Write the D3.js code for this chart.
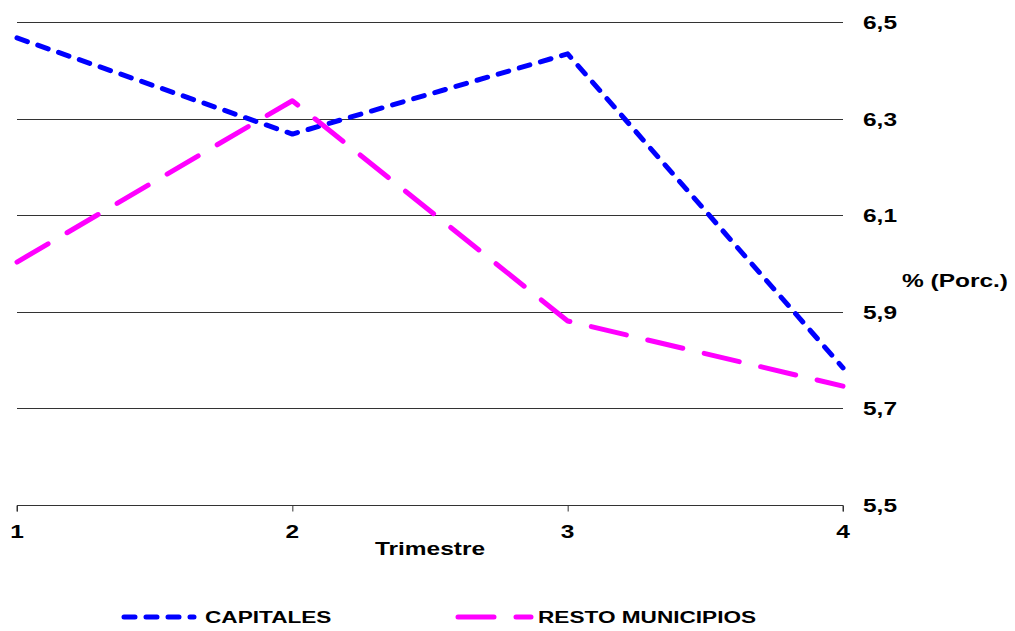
<!DOCTYPE html>
<html><head><meta charset="utf-8">
<script src="https://cdn.jsdelivr.net/npm/d3@7"></script>
<style>
html,body{margin:0;padding:0;background:#fff;}
svg text{font-family:"Liberation Sans",Arial,sans-serif;font-weight:bold;fill:#000;}
</style></head>
<body>
<svg id="chart" width="1015" height="631"></svg>
<script>
const categories = [1, 2, 3, 4];
const capitales = [6.467, 6.268, 6.434, 5.784];
const restoMunicipios = [6.003, 6.337, 5.881, 5.746];
const yTicks = [5.5, 5.7, 5.9, 6.1, 6.3, 6.5];
const seriesNames = ["CAPITALES", "RESTO MUNICIPIOS"];
const xTitle = "Trimestre";
const yTitle = "% (Porc.)";

const svg = d3.select("#chart");
const x = d3.scalePoint().domain(categories).range([17, 843]);
const y = d3.scaleLinear().domain([5.5, 6.5]).range([505, 22]);

function stretchedText(g, tx, ty, txt, anchor, size, sx) {
  return g.append("text").attr("transform", `translate(${tx},${ty}) scale(${sx},1)`)
    .attr("font-size", size).attr("text-anchor", anchor || "start").text(txt);
}

// gridlines
svg.append("g").selectAll("line").data(yTicks.filter(d => d > 5.5)).join("line")
  .attr("x1", x(1)).attr("x2", x(4))
  .attr("y1", d => Math.round(y(d)) + 0.5).attr("y2", d => Math.round(y(d)) + 0.5)
  .attr("stroke", "#333").attr("stroke-width", 1);

// x axis
const xAxis = d3.axisBottom(x).tickSize(6).tickFormat("");
const xg = svg.append("g").attr("transform", `translate(0,${Math.round(y(5.5)) + 0.5})`).call(xAxis);
xg.select(".domain").attr("stroke", "#333").attr("d", `M${x(1)},6V0H${x(4)}V6`);
xg.selectAll(".tick line").attr("stroke", "#333");

// x tick labels
categories.forEach(c => stretchedText(svg, x(c), 538, String(c), "middle", 18, 1.36));
stretchedText(svg, (x(2) + x(3)) / 2, 555, xTitle, "middle", 18, 1.36);

// y tick labels (right)
const fmt = d => d3.format(".1f")(d).replace(".", ",");
yTicks.forEach(v => stretchedText(svg, 863, y(v) + 7, fmt(v), "start", 18, 1.36));
stretchedText(svg, 902, 287, yTitle, "start", 18, 1.36);

// lines
const line = d3.line().x((d, i) => x(categories[i])).y(d => y(d));
const styles = [
  {color: "#0000FF", dash: "11,11"},
  {color: "#FF00FF", dash: "36,22"}
];
[capitales, restoMunicipios].forEach((s, i) => {
  svg.append("path").datum(s).attr("d", line)
    .attr("fill", "none").attr("stroke", styles[i].color).attr("stroke-width", 5)
    .attr("stroke-linecap", "round").attr("stroke-linejoin", "round")
    .attr("stroke-dasharray", styles[i].dash);
});

// legend
const legendPos = [{x1: 124, x2: 194, tx: 205}, {x1: 458, x2: 531, tx: 538}];
seriesNames.forEach((n, i) => {
  const lp = legendPos[i];
  svg.append("line").attr("x1", lp.x1).attr("x2", lp.x2).attr("y1", 617).attr("y2", 617)
    .attr("stroke", styles[i].color).attr("stroke-width", 5).attr("stroke-linecap", "round")
    .attr("stroke-dasharray", styles[i].dash);
  stretchedText(svg, lp.tx, 623, n, "start", 17, 1.33);
});
</script>
</body></html>
